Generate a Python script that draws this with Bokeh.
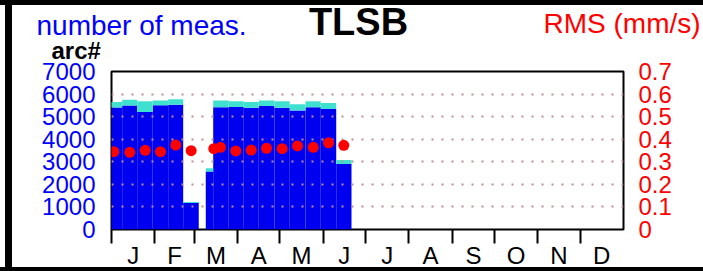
from bokeh.plotting import figure
from bokeh.layouts import column
from bokeh.models import (Range1d, LinearAxis, FixedTicker, NumeralTickFormatter)
from bokeh.core.properties import value
from bokeh.embed import file_html
from bokeh.resources import INLINE

# ---------------- data (day of year) ----------------
bar_start = [-3.3, 7.6, 18.3, 29.4, 40.4, 51.1, 67.2, 72.5, 83.6, 94.3, 105.0, 116.2, 127.1, 138.3, 149.2, 160.2]
bar_end = [7.6, 18.3, 29.4, 40.4, 51.1, 62.2, 72.5, 83.6, 94.3, 105.0, 116.2, 127.1, 138.3, 149.2, 160.2, 171.1]
arcs = [5400, 5490, 5210, 5500, 5530, 1170, 2570, 5415, 5430, 5390, 5475, 5390, 5270, 5415, 5340, 2905]
meas = [5650, 5750, 5680, 5720, 5770, 1220, 2715, 5720, 5680, 5650, 5720, 5680, 5550, 5680, 5605, 3080]

rms_day = [1.6, 13.0, 24.0, 34.9, 45.8, 56.8, 72.9, 77.7, 88.6, 99.6, 110.5, 121.7, 132.6, 143.8, 154.7, 165.6]
rms_val = [0.345, 0.342, 0.351, 0.345, 0.374, 0.349, 0.358, 0.364, 0.348, 0.352, 0.360, 0.358, 0.370, 0.364, 0.384, 0.373]

month_labels = ["J", "F", "M", "A", "M", "J", "J", "A", "S", "O", "N", "D"]
month_start = [0, 31, 59, 90, 120, 151, 181, 212, 243, 273, 304, 334]
year_days = 365
count_ticks = [0, 1000, 2000, 3000, 4000, 5000, 6000, 7000]
rms_ticks = [0, 0.1, 0.2, 0.3, 0.4, 0.5, 0.6, 0.7]

title_text = "TLSB"
left_title = "number of meas."
left_unit = "arc#"
right_title = "RMS (mm/s)"

FONT = "Liberation Sans"
W, H = 703, 271
BLACK = "linear-gradient(#000,#000)"

# ---------------- backdrop figure: page frame and titles (pixel coordinates) ----------------
hdr = figure(width=W, height=H, output_backend="svg", toolbar_location=None,
             x_range=Range1d(0, W), y_range=Range1d(H, 0),
             x_axis_type=None, y_axis_type=None, min_border=0)
hdr.grid.visible = False
hdr.outline_line_color = None
hdr.background_fill_color = None
hdr.border_fill_color = None
hdr.styles = {"background": (f"{BLACK} 0 0/100% 5px no-repeat, "
                             f"{BLACK} 5px 0/7px 100% no-repeat, "
                             f"{BLACK} 0 267px/100% 4px no-repeat, #fff")}

hdr.text(x=[36], y=[25], text=[left_title], text_color="#0000ff", text_font=value(FONT),
         text_font_size="28px", text_baseline="alphabetic", text_align="left")
hdr.text(x=[358], y=[21.5], text=[title_text], text_color="black", text_font=value(FONT),
         text_font_style="bold", text_font_size="38px", text_baseline="alphabetic",
         text_align="center")
hdr.text(x=[543], y=[23], text=[right_title], text_color="#ff0000", text_font=value(FONT),
         text_font_size="28px", text_baseline="alphabetic", text_align="left")
hdr.text(x=[51], y=[49.5], text=[left_unit], text_color="black", text_font=value(FONT),
         text_font_style="bold", text_font_size="24px", text_baseline="alphabetic",
         text_align="left")

# ---------------- main chart, laid over the backdrop ----------------
p = figure(width=W, height=H, output_backend="svg", toolbar_location=None,
           x_range=Range1d(0, year_days), y_range=Range1d(0, 7000),
           min_border_left=111, min_border_right=80, min_border_top=71,
           min_border_bottom=41, x_axis_location="below", y_axis_location="left")
p.margin = (-H, 0, 0, 0)
p.background_fill_color = "white"
p.border_fill_color = None
p.outline_line_color = "black"
p.outline_line_width = 2
p.xgrid.visible = False

for fig in (hdr, p):
    if "frame_align" in fig.properties():
        fig.frame_align = False

# grid
p.ygrid.ticker = FixedTicker(ticks=count_ticks)
p.ygrid.grid_line_color = "#bc8f8f"
p.ygrid.grid_line_width = 2
p.ygrid.grid_line_dash = "2 8"
p.ygrid.level = "underlay"

# bars
r1 = p.quad(left=bar_start, right=bar_end, bottom=0, top=arcs,
            fill_color="#0000f0", line_color=None)
r2 = p.quad(left=bar_start, right=bar_end, bottom=arcs, top=meas,
            fill_color="#40e0d0", line_color=None)
r1.level = "image"
r2.level = "image"

# RMS dots on the right axis
p.extra_y_ranges = {"rms": Range1d(0, 0.7)}
p.scatter(x=rms_day, y=rms_val, y_range_name="rms", size=11,
          fill_color="#ff0000", line_color=None)

# left axis
ya = p.yaxis[0]
ya.ticker = FixedTicker(ticks=count_ticks)
ya.axis_line_color = None
ya.major_tick_line_color = None
ya.minor_tick_line_color = None
ya.major_tick_out = 0
ya.major_tick_in = 0
ya.minor_tick_out = 0
ya.minor_tick_in = 0
ya.major_label_standoff = 16
ya.major_label_text_color = "#0000ff"
ya.major_label_text_font = FONT
ya.major_label_text_font_size = "24px"

# right axis
ra = LinearAxis(y_range_name="rms", ticker=FixedTicker(ticks=rms_ticks),
                formatter=NumeralTickFormatter(format="0.[0]"))
ra.axis_line_color = None
ra.major_tick_line_color = None
ra.minor_tick_line_color = None
ra.major_tick_out = 0
ra.major_tick_in = 0
ra.minor_tick_out = 0
ra.minor_tick_in = 0
ra.major_label_standoff = 15
ra.major_label_text_color = "#ff0000"
ra.major_label_text_font = FONT
ra.major_label_text_font_size = "24px"
p.add_layout(ra, "right")

# bottom axis: month letters centred, ticks at month boundaries
edges = month_start + [year_days]
mids = [(edges[i] + edges[i + 1]) / 2 for i in range(12)]
xa = p.xaxis[0]
xa.ticker = FixedTicker(ticks=mids, minor_ticks=month_start)
xa.major_label_overrides = {m: lab for m, lab in zip(mids, month_labels)}
xa.axis_line_color = None
xa.major_tick_line_color = None
xa.major_tick_out = 0
xa.major_tick_in = 0
xa.minor_tick_line_color = "black"
xa.minor_tick_line_width = 2
xa.minor_tick_out = 14
xa.minor_tick_in = 0
xa.major_label_standoff = -2
xa.major_label_text_color = "black"
xa.major_label_text_font = FONT
xa.major_label_text_font_size = "24px"

layout = column(hdr, p, spacing=0)
layout.styles = {"overflow": "hidden"}
open("out.html", "w").write(file_html(layout, INLINE))
